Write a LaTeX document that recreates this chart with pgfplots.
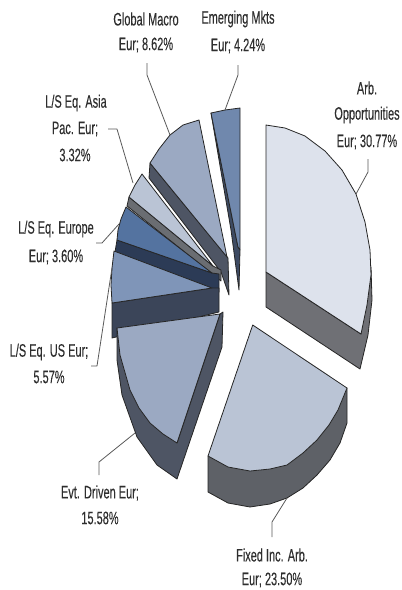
\documentclass[border=0pt]{standalone}
\usepackage{fontspec}
\setmainfont[FakeBold=0.25]{Liberation Sans}
\usepackage{graphicx}
\usepackage{pgfplots}
\pgfplotsset{compat=1.18}

\definecolor{arbtop}{HTML}{DDE2EC}
\definecolor{arbside}{HTML}{6F7075}
\definecolor{fixtop}{HTML}{BAC4D5}
\definecolor{fixside}{HTML}{5E6167}
\definecolor{evttop}{HTML}{9BA9C2}
\definecolor{evtside}{HTML}{4E5564}
\definecolor{ustop}{HTML}{7F95B8}
\definecolor{usside}{HTML}{3B4559}
\definecolor{eurtop}{HTML}{5473A0}
\definecolor{eurside}{HTML}{2C3B56}
\definecolor{asiatop}{HTML}{BAC4D5}
\definecolor{asiaside}{HTML}{6A6D72}
\definecolor{emtop}{HTML}{7088AD}
\definecolor{emside}{HTML}{3E4B63}
\definecolor{labtxt}{HTML}{2E2E2E}

\newcommand{\lab}[3]{\node[anchor=center,inner sep=0pt,text=labtxt] at (axis cs:#1,#2) {\fontsize{18}{20}\selectfont\scalebox{0.61}[1]{#3}};}

\begin{document}
\begin{tikzpicture}
\begin{axis}[
    scale only axis,
    width=402pt,
    height=590pt,
    xmin=0, xmax=402,
    ymin=0, ymax=590,
    y dir=reverse,
    hide axis,
    clip=false,
    every axis plot/.append style={no markers, line join=round},
    face/.style={draw=black!85, line width=0.8pt},
    leader/.style={draw=black!65, line width=0.8pt},
]
% keeps the page as large as the axis box
\path (rel axis cs:0,0) rectangle (rel axis cs:1,1);
% emerging mkts
\addplot[face, fill=emside] coordinates {(211,113) (231,230) (239,290) (240,250) (238,247)} -- cycle;
\addplot[face, fill=emtop] coordinates {(211,113) (225,110) (240,108) (240,250) (238,247)} -- cycle;
% global macro
\addplot[face, fill=evtside] coordinates {(150,163) (149,178) (221,272) (229,295) (228,258)} -- cycle;
\addplot[face, fill=evttop] coordinates {(199,120) (183,125) (170,135) (159,149) (150,163) (227,257)} -- cycle;
% l/s asia
\addplot[face, fill=asiaside] coordinates {(129,197) (127,206) (221,281) (221,270) (213,266)} -- cycle;
\addplot[face, fill=asiatop] coordinates {(142,174) (135,185) (129,197) (213,266)} -- cycle;
% l/s europe
\addplot[face, fill=eurside] coordinates {(117,240) (115,252) (219,292) (219,274) (212,273)} -- cycle;
\addplot[face, fill=eurtop] coordinates {(126,207) (121,219) (118,230) (117,240) (212,273)} -- cycle;
% l/s us
\addplot[face, fill=usside] coordinates {(112,303) (112,338) (219,312) (219,288) (212,288)} -- cycle;
\addplot[face, fill=ustop] coordinates {(114,251) (112,268) (111,285) (112,303) (212,288)} -- cycle;
% evt driven
\addplot[face, fill=evtside] coordinates {(117,328) (117,360) (122,395) (137,437) (157,465) (177,479) (222,347) (223,312) (220,314) (177,443)} -- cycle;
\addplot[face, fill=evttop] coordinates {(220,314) (117,328) (120,355) (130,390) (139,408) (150,423) (163,434) (177,443)} -- cycle;
% fixed inc
\addplot[face, fill=fixside] coordinates {(208,456) (208,492) (228,503) (250,507) (270,504) (287,498) (303,488) (317,475) (330,460) (340,443) (347,423) (347,388)} -- cycle;
\addplot[face, fill=fixtop] coordinates {(252.7,325) (347,388) (338,410) (329,425) (317,440) (303,453) (287,465) (270,469) (250,471) (228,467) (208,456)} -- cycle;
% arb
\addplot[face, fill=arbside] coordinates {(266,272) (266,307) (360,369) (368,335) (372,300) (371,267) (361,334)} -- cycle;
\addplot[face, fill=arbtop] coordinates {(266,125) (285,128) (305,136) (325,151) (342,170) (356,194) (365,222) (370,250) (371,275) (367,305) (361,334) (266,272)} -- cycle;
% leader lines
\addplot[leader] coordinates {(147,63) (147,75) (170,135)};
\addplot[leader] coordinates {(238,65) (238,75) (225,110)};
\addplot[leader] coordinates {(368,159) (368,172) (356,194)};
\addplot[leader] coordinates {(108,129) (117,129) (133,183)};
\addplot[leader] coordinates {(96,243) (102,243) (119,224)};
\addplot[leader] coordinates {(91,366) (97,366) (112,268)};
\addplot[leader] coordinates {(99,475) (99,462) (135,433)};
\addplot[leader] coordinates {(272,537) (272,522) (287,498)};
% labels
\lab{146}{19}{Global Macro}
\lab{146}{45}{Eur; 8.62\%}
\lab{238}{19}{Emerging Mkts}
\lab{238}{46}{Eur; 4.24\%}
\lab{367}{88}{Arb.}
\lab{367}{115}{Opportunities}
\lab{367}{142}{Eur; 30.77\%}
\lab{76}{103}{L/S Eq. Asia}
\lab{75}{129}{Pac. Eur;}
\lab{75}{155}{3.32\%}
\lab{56}{229}{L/S Eq. Europe}
\lab{56}{257}{Eur; 3.60\%}
\lab{49}{352}{L/S Eq. US Eur;}
\lab{49}{377}{5.57\%}
\lab{100}{493}{Evt. Driven Eur;}
\lab{100}{518}{15.58\%}
\lab{272}{555}{Fixed Inc. Arb.}
\lab{272}{580}{Eur; 23.50\%}
\end{axis}
\end{tikzpicture}
\end{document}
